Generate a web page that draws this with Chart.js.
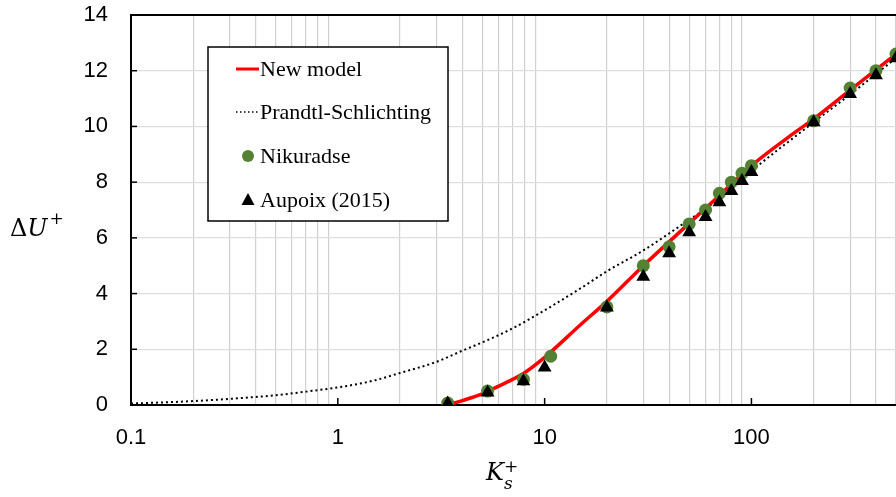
<!DOCTYPE html>
<html>
<head>
<meta charset="utf-8">
<script src="https://cdn.jsdelivr.net/npm/chart.js@4"></script>
<style>
  html, body { margin: 0; padding: 0; background: #fff; }
  #wrap { width: 896px; height: 497px; position: relative; }
</style>
</head>
<body>
<div id="wrap"><canvas id="chart"></canvas></div>
<script>
// data
const newModelKs = [3.4, 4, 5, 6, 7, 8, 10, 15, 20, 30, 50, 70, 100, 150, 200, 300, 500];
const newModelDU = [0.0, 0.16, 0.4, 0.68, 0.92, 1.16, 1.71, 2.9, 3.72, 5.0, 6.52, 7.52, 8.59, 9.6, 10.27, 11.3, 12.6];

const prandtlKs = [0.1, 0.2, 0.3, 0.5, 0.7, 1, 1.5, 2, 3, 4, 5, 7, 10, 15, 20, 30, 50, 70, 100, 200, 300, 500];
const prandtlDU = [0.05, 0.14, 0.22, 0.35, 0.48, 0.63, 0.88, 1.15, 1.55, 1.95, 2.25, 2.75, 3.4, 4.2, 4.8, 5.55, 6.65, 7.4, 8.4, 10.15, 11.15, 12.45];

const nikuradseKs = [3.4, 5.3, 7.9, 10.7, 20, 30, 40, 50, 60, 70, 80, 90, 100, 200, 300, 400, 500];
const nikuradseDU = [0.07, 0.5, 0.92, 1.75, 3.52, 5.0, 5.68, 6.5, 7.0, 7.6, 8.0, 8.32, 8.59, 10.2, 11.38, 12.0, 12.6];

const aupoixKs = [3.4, 5.3, 7.9, 10, 20, 30, 40, 50, 60, 70, 80, 90, 100, 200, 300, 400, 500];
const aupoixDU = [0.05, 0.45, 0.85, 1.35, 3.5, 4.6, 5.45, 6.2, 6.75, 7.28, 7.68, 8.04, 8.36, 10.15, 11.16, 11.84, 12.45];

const xDecades = [0.1, 1, 10, 100];
const xTickLabels = ['0.1', '1', '10', '100'];
const xMinorTicks = [0.2, 0.3, 0.4, 0.5, 0.6, 0.7, 0.8, 0.9, 2, 3, 4, 5, 6, 7, 8, 9,
    20, 30, 40, 50, 60, 70, 80, 90, 200, 300, 400, 500];

const seriesNames = ['New model', 'Prandtl-Schlichting', 'Nikuradse', 'Aupoix (2015)'];

const RED = '#ff0000', GREEN = '#548235', BLACK = '#000000';

const toXY = (xs, ys) => xs.map((x, i) => ({ x: x, y: ys[i] }));

/* legend box drawn inside the plot, like the original */
const boxLegend = {
    id: 'boxLegend',
    afterDraw(chart) {
        const c = chart.ctx;
        const x0 = 208, y0 = 47, w = 240, h = 174;
        c.save();
        c.fillStyle = '#fff';
        c.fillRect(x0, y0, w, h);
        c.strokeStyle = BLACK;
        c.lineWidth = 1.5;
        c.strokeRect(x0, y0, w, h);

        const rows = [69, 112, 156, 200];
        // New model
        c.strokeStyle = RED; c.lineWidth = 3;
        c.beginPath(); c.moveTo(236, rows[0]); c.lineTo(259, rows[0]); c.stroke();
        // Prandtl
        c.strokeStyle = BLACK; c.lineWidth = 1.5; c.setLineDash([1.5, 2.5]);
        c.beginPath(); c.moveTo(236, rows[1]); c.lineTo(259, rows[1]); c.stroke();
        c.setLineDash([]);
        // Nikuradse
        c.fillStyle = GREEN;
        c.beginPath(); c.arc(248, rows[2], 6, 0, Math.PI * 2); c.fill();
        // Aupoix
        c.fillStyle = BLACK;
        c.beginPath(); c.moveTo(248, rows[3] - 7); c.lineTo(254.5, rows[3] + 5); c.lineTo(241.5, rows[3] + 5); c.closePath(); c.fill();

        c.font = '22px "Liberation Serif", "Times New Roman", serif';
        c.fillStyle = BLACK;
        c.textBaseline = 'middle';
        c.textAlign = 'left';
        seriesNames.forEach((n, i) => c.fillText(n, 260, rows[i] + 1));
        c.restore();
    }
};

/* frame, inward tick marks and the math-style axis titles */
const frameAndTitles = {
    id: 'frameAndTitles',
    afterDraw(chart) {
        const c = chart.ctx, a = chart.chartArea;
        const xs = chart.scales.x, ys = chart.scales.y;
        c.save();
        c.strokeStyle = BLACK;
        c.lineWidth = 2;
        c.beginPath(); c.moveTo(a.left, a.top); c.lineTo(a.right, a.top); c.stroke();
        c.lineWidth = 1.5;
        xDecades.forEach(v => {
            const px = xs.getPixelForValue(v);
            c.beginPath(); c.moveTo(px, a.bottom); c.lineTo(px, a.bottom - 7); c.stroke();
        });
        for (let v = 2; v < 14; v += 2) {
            const py = ys.getPixelForValue(v);
            c.beginPath(); c.moveTo(a.left, py); c.lineTo(a.left + 6, py); c.stroke();
        }

        c.fillStyle = BLACK;
        c.textBaseline = 'alphabetic';
        c.textAlign = 'left';
        // ΔU+
        c.font = '24px "DejaVu Serif", serif';
        c.fillText('Δ', 10, 236);
        let w = c.measureText('Δ').width;
        c.font = 'italic 24px "DejaVu Serif", serif';
        c.fillText('U', 10 + w, 236);
        w += c.measureText('U').width;
        c.font = '17px "DejaVu Serif", serif';
        c.fillText('+', 12 + w, 224);
        // Ks+
        c.font = 'italic 24px "DejaVu Serif", serif';
        c.fillText('K', 486, 480);
        let k = c.measureText('K').width;
        c.font = 'italic 17px "DejaVu Serif", serif';
        c.fillText('s', 486 + k, 489);
        c.font = '17px "DejaVu Serif", serif';
        c.fillText('+', 486 + k, 472);
        c.restore();
    }
};

const ctx = document.getElementById('chart').getContext('2d');

new Chart(ctx, {
    type: 'scatter',
    data: {
        datasets: [{
            label: seriesNames[3],
            data: toXY(aupoixKs, aupoixDU),
            pointStyle: 'triangle',
            pointRadius: 8,
            backgroundColor: BLACK,
            borderColor: BLACK,
            borderWidth: 0,
            order: 1
        }, {
            label: seriesNames[2],
            data: toXY(nikuradseKs, nikuradseDU),
            pointStyle: 'circle',
            pointRadius: 6.5,
            backgroundColor: GREEN,
            borderColor: GREEN,
            borderWidth: 0,
            order: 2
        }, {
            label: seriesNames[0],
            data: toXY(newModelKs, newModelDU),
            showLine: true,
            pointRadius: 0,
            borderColor: RED,
            borderWidth: 3.5,
            cubicInterpolationMode: 'monotone',
            order: 3
        }, {
            label: seriesNames[1],
            data: toXY(prandtlKs, prandtlDU),
            showLine: true,
            pointRadius: 0,
            borderColor: BLACK,
            borderWidth: 2,
            borderDash: [2, 3],
            cubicInterpolationMode: 'monotone',
            order: 4
        }]
    },
    options: {
        responsive: true,
        maintainAspectRatio: false,
        animation: false,
        layout: { autoPadding: false, padding: { top: 15, right: 0, left: 0, bottom: 0 } },
        plugins: {
            legend: { display: false },
            tooltip: { enabled: false }
        },
        scales: {
            x: {
                type: 'logarithmic',
                min: 0.1,
                max: 500,
                afterBuildTicks: scale => {
                    scale.ticks = xDecades.concat(xMinorTicks).sort((p, q) => p - q).map(v => ({ value: v }));
                },
                afterFit: scale => {
                    scale.height = 92;
                    scale.paddingLeft = 0;
                    scale.paddingRight = 0;
                },
                border: { color: BLACK, width: 2 },
                grid: {
                    drawTicks: false,
                    color: c => xDecades.includes(c.tick.value) ? 'rgba(0,0,0,0)' : '#d0d0d0',
                    lineWidth: 1.2
                },
                ticks: {
                    autoSkip: false,
                    maxRotation: 0,
                    padding: 20,
                    color: BLACK,
                    font: { family: '"Liberation Sans", Arial, sans-serif', size: 22 },
                    callback: value => {
                        const i = xDecades.indexOf(value);
                        return i >= 0 ? xTickLabels[i] : '';
                    }
                }
            },
            y: {
                min: 0,
                max: 14,
                afterFit: scale => {
                    scale.width = 131;
                    scale.paddingTop = 0;
                    scale.paddingBottom = 0;
                },
                border: { color: BLACK, width: 2 },
                grid: { drawTicks: false, color: '#dedede', lineWidth: 1.2 },
                ticks: {
                    stepSize: 2,
                    padding: 23,
                    color: BLACK,
                    font: { family: '"Liberation Sans", Arial, sans-serif', size: 22 }
                }
            }
        }
    },
    plugins: [boxLegend, frameAndTitles]
});
</script>
</body>
</html>
